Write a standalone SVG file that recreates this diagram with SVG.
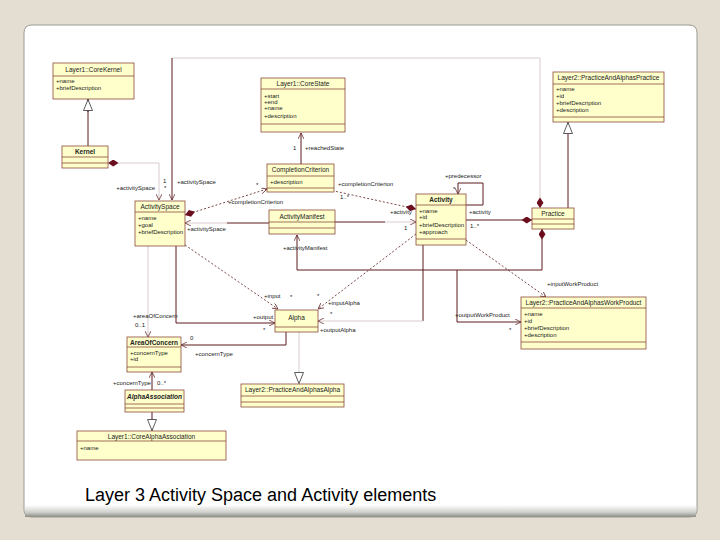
<svg xmlns="http://www.w3.org/2000/svg" width="720" height="540" viewBox="0 0 720 540">
<defs>
<linearGradient id="sh" x1="0" y1="0" x2="0" y2="1">
<stop offset="0" stop-color="#ffffff"/>
<stop offset="0.6" stop-color="#d0d0cc"/>
<stop offset="1" stop-color="#8c8c86"/>
</linearGradient>
<marker id="arr" viewBox="0 0 10 10" refX="10" refY="5" markerWidth="6" markerHeight="6" orient="auto-start-reverse" markerUnits="userSpaceOnUse">
<path d="M0,0 L10,5 L0,10" fill="none" stroke="#5a1a1a" stroke-width="1.2"/>
</marker>
<marker id="dia" viewBox="0 0 12 8" refX="12" refY="4" markerWidth="11" markerHeight="7" orient="auto-start-reverse" markerUnits="userSpaceOnUse">
<path d="M0,4 L6,0 L12,4 L6,8 Z" fill="#6b0f1f"/>
</marker>
<marker id="gen" viewBox="0 0 12 10" refX="12" refY="5" markerWidth="12" markerHeight="10" orient="auto" markerUnits="userSpaceOnUse">
<path d="M0.5,0.5 L11.5,5 L0.5,9.5 Z" fill="#fff" stroke="#333" stroke-width="0.8"/>
</marker>
</defs>
<style>
.box{fill:#ffffcb;stroke:#8a4a3a;stroke-width:0.8}
.sep{stroke:#8a4a3a;stroke-width:0.8}
.hd{font-family:"Liberation Sans",Arial,sans-serif;font-size:6.5px;fill:#222;text-anchor:middle}
.at{font-family:"Liberation Sans",Arial,sans-serif;font-size:6px;fill:#222}
.lb{font-family:"Liberation Sans",Arial,sans-serif;font-size:6px;fill:#222}
.ln{fill:none;stroke:#5a1a1a;stroke-width:1}
.fl{fill:none;stroke:#d9cccc;stroke-width:1}
.ds{fill:none;stroke:#5a1a1a;stroke-width:0.8;stroke-dasharray:2,2}
</style>
<rect x="0" y="0" width="720" height="540" fill="#e4ddd2"/>
<path d="M32,25 H689 Q697,25 697,33 V510 Q697,517 689,517 H32 Q24,517 24,510 V33 Q24,25 32,25 Z" fill="#ffffff" stroke="#9a9a92" stroke-width="1"/>
<rect x="25" y="505" width="671" height="12" fill="url(#sh)"/>
<text x="85" y="501" font-family="Liberation Sans, Arial, sans-serif" font-size="18" fill="#000">Layer 3 Activity Space and Activity elements</text>

<g id="connectors">
<!-- generalizations -->
<path class="ln" d="M88,146 V99"/>
<path class="ln" d="M88,112 V99" marker-end="url(#gen)"/>
<path class="ln" d="M568,208 V122" marker-end="url(#gen)"/>
<path class="ln" d="M152,412 V431" marker-end="url(#gen)"/>
<path class="fl" d="M299,332 V384" marker-end="url(#gen)"/>
<!-- Kernel to ActivitySpace -->
<path class="fl" d="M108,163 H159 V200" marker-start="url(#dia)" marker-end="url(#arr)"/>
<!-- Practice top to ActivitySpace -->
<path class="fl" d="M540,208 V58 H172" marker-start="url(#dia)"/>
<path class="ln" d="M172,58 V200" marker-end="url(#arr)"/>
<!-- CompletionCriterion to CoreState -->
<path class="ln" d="M301,164 V133" marker-end="url(#arr)"/>
<!-- ActivitySpace to CompletionCriterion -->
<path class="ds" d="M185,215 L267,189" marker-start="url(#dia)" marker-end="url(#arr)"/>
<!-- Activity to CompletionCriterion -->
<path class="ds" d="M416,209 L334,191" marker-start="url(#dia)"/>
<!-- ActivityManifest to ActivitySpace -->
<path class="ln" d="M269,223 H227"/>
<path class="fl" d="M227,223 H185" marker-end="url(#arr)"/>
<!-- ActivityManifest to Activity -->
<path class="ln" d="M335,222 H385"/>
<path class="fl" d="M385,222 H416" marker-end="url(#arr)"/>
<!-- Activity self loop -->
<path class="ln" d="M466,205 H483 V183 H458 V194" marker-end="url(#arr)"/>
<!-- Activity to Practice -->
<path class="ln" d="M532,220 H466" marker-start="url(#dia)"/>
<!-- Practice bottom to ActivityManifest -->
<path class="ln" d="M542,229 V270 H297 V235" marker-start="url(#dia)" marker-end="url(#arr)"/>
<!-- Activity to Alpha output -->
<path class="ln" d="M423,245 V321"/>
<path class="fl" d="M423,321 H318" marker-end="url(#arr)"/>
<!-- Activity to Alpha input -->
<path class="ds" d="M416,234 L318,309" marker-end="url(#arr)"/>
<!-- Activity to WorkProduct input -->
<path class="ds" d="M466,240 L546,297" marker-end="url(#arr)"/>
<!-- outputWorkProduct -->
<path class="ln" d="M457,270 V322 H521" marker-end="url(#arr)"/>
<!-- ActivitySpace to Alpha -->
<path class="ds" d="M185,245 L278,309" marker-end="url(#arr)"/>
<path class="ln" d="M176,246 V323 H275" marker-end="url(#arr)"/>
<!-- ActivitySpace to AreaOfConcern -->
<path class="fl" d="M148,246 V337" marker-end="url(#arr)"/>
<!-- Alpha to AreaOfConcern -->
<path class="ln" d="M286,332 V345 H181" marker-end="url(#arr)"/>
<!-- AlphaAssociation to AreaOfConcern -->
<path class="ln" d="M152,390 V372" marker-end="url(#arr)"/>
<!-- labels -->
<text class="lb" x="155" y="190" text-anchor="end">+activitySpace</text>
<text class="lb" x="163" y="183">1</text>
<text class="lb" x="164" y="190">*</text>
<text class="lb" x="177" y="184">+activitySpace</text>
<text class="lb" x="293" y="150">1</text>
<text class="lb" x="305" y="150">+reachedState</text>
<text class="lb" x="228" y="204">+completionCriterion</text>
<text class="lb" x="256" y="187">*</text>
<text class="lb" x="338" y="186">+completionCriterion</text>
<text class="lb" x="340" y="199">1..*</text>
<text class="lb" x="187" y="231">+activitySpace</text>
<text class="lb" x="390" y="214">+activity</text>
<text class="lb" x="404" y="230">1</text>
<text class="lb" x="445" y="178">+predecessor</text>
<text class="lb" x="453" y="191">*</text>
<text class="lb" x="469" y="214">+activity</text>
<text class="lb" x="470" y="228">1..*</text>
<text class="lb" x="283" y="250">+activityManifest</text>
<text class="lb" x="328" y="305">+inputAlpha</text>
<text class="lb" x="317" y="298">*</text>
<text class="lb" x="330" y="316">*</text>
<text class="lb" x="320" y="332">+outputAlpha</text>
<text class="lb" x="547" y="286">+inputWorkProduct</text>
<text class="lb" x="455" y="317">+outputWorkProduct</text>
<text class="lb" x="509" y="332">*</text>
<text class="lb" x="264" y="298">+input</text>
<text class="lb" x="290" y="299">*</text>
<text class="lb" x="253" y="319">+output</text>
<text class="lb" x="263" y="332">*</text>
<text class="lb" x="133" y="318">+areaOfConcern</text>
<text class="lb" x="135" y="327">0..1</text>
<text class="lb" x="190" y="340">0</text>
<text class="lb" x="195" y="356">+concernType</text>
<text class="lb" x="113" y="385">+concernType</text>
<text class="lb" x="157" y="385">0..*</text>
</g>

<g id="CoreKernel">
<rect class="box" x="53" y="63" width="81" height="36"/>
<line class="sep" x1="53" y1="76" x2="134" y2="76"/>
<text class="hd" x="93.5" y="72">Layer1::CoreKernel</text>
<text class="at" x="56" y="83">+name</text>
<text class="at" x="56" y="90">+briefDescription</text>
</g>
<g id="Kernel">
<rect class="box" x="62" y="146" width="46" height="22"/>
<line class="sep" x1="62" y1="157" x2="108" y2="157"/>
<line class="sep" x1="62" y1="163" x2="108" y2="163"/>
<text class="hd" x="85" y="154" font-weight="bold">Kernel</text>
</g>
<g id="CoreState">
<rect class="box" x="261" y="78" width="84" height="54"/>
<line class="sep" x1="261" y1="89" x2="345" y2="89"/>
<line class="sep" x1="261" y1="124" x2="345" y2="124"/>
<text class="hd" x="303" y="86">Layer1::CoreState</text>
<text class="at" x="264" y="98">+start</text>
<text class="at" x="264" y="104">+end</text>
<text class="at" x="264" y="110">+name</text>
<text class="at" x="264" y="118">+description</text>
</g>
<g id="CompletionCriterion">
<rect class="box" x="267" y="164" width="67" height="28"/>
<line class="sep" x1="267" y1="176" x2="334" y2="176"/>
<line class="sep" x1="267" y1="188" x2="334" y2="188"/>
<text class="hd" x="300.5" y="172">CompletionCriterion</text>
<text class="at" x="270" y="184">+description</text>
</g>
<g id="ActivitySpace">
<rect class="box" x="135" y="201" width="50" height="45"/>
<line class="sep" x1="135" y1="212" x2="185" y2="212"/>
<text class="hd" x="160" y="209">ActivitySpace</text>
<text class="at" x="138" y="220">+name</text>
<text class="at" x="138" y="227">+goal</text>
<text class="at" x="138" y="234">+briefDescription</text>
</g>
<g id="ActivityManifest">
<rect class="box" x="269" y="210" width="66" height="24"/>
<line class="sep" x1="269" y1="222" x2="335" y2="222"/>
<line class="sep" x1="269" y1="228" x2="335" y2="228"/>
<text class="hd" x="302" y="219">ActivityManifest</text>
</g>
<g id="Activity">
<rect class="box" x="416" y="194" width="50" height="51"/>
<line class="sep" x1="416" y1="205" x2="466" y2="205"/>
<line class="sep" x1="416" y1="239" x2="466" y2="239"/>
<text class="hd" x="441" y="202" font-weight="bold">Activity</text>
<text class="at" x="419" y="213">+name</text>
<text class="at" x="419" y="219">+id</text>
<text class="at" x="419" y="227">+briefDescription</text>
<text class="at" x="419" y="234">+approach</text>
</g>
<g id="Practice">
<rect class="box" x="532" y="208" width="42" height="21"/>
<line class="sep" x1="532" y1="219" x2="574" y2="219"/>
<line class="sep" x1="532" y1="224" x2="574" y2="224"/>
<text class="hd" x="553" y="216">Practice</text>
</g>
<g id="PracticeAndAlphasPractice">
<rect class="box" x="553" y="72" width="111" height="50"/>
<line class="sep" x1="553" y1="84" x2="664" y2="84"/>
<line class="sep" x1="553" y1="117" x2="664" y2="117"/>
<text class="hd" x="608.5" y="80">Layer2::PracticeAndAlphasPractice</text>
<text class="at" x="556" y="91">+name</text>
<text class="at" x="556" y="98">+id</text>
<text class="at" x="556" y="105">+briefDescription</text>
<text class="at" x="556" y="112">+description</text>
</g>
<g id="PracticeAndAlphasWorkProduct">
<rect class="box" x="521" y="297" width="125" height="52"/>
<line class="sep" x1="521" y1="308" x2="646" y2="308"/>
<line class="sep" x1="521" y1="342" x2="646" y2="342"/>
<text class="hd" x="583.5" y="305">Layer2::PracticeAndAlphasWorkProduct</text>
<text class="at" x="524" y="316">+name</text>
<text class="at" x="524" y="323">+id</text>
<text class="at" x="524" y="330">+briefDescription</text>
<text class="at" x="524" y="337">+description</text>
</g>
<g id="Alpha">
<rect class="box" x="275" y="310" width="43" height="22"/>
<line class="sep" x1="275" y1="327" x2="318" y2="327"/>
<text class="hd" x="296.5" y="320">Alpha</text>
</g>
<g id="AreaOfConcern">
<rect class="box" x="127" y="337" width="54" height="35"/>
<line class="sep" x1="127" y1="347" x2="181" y2="347"/>
<line class="sep" x1="127" y1="367" x2="181" y2="367"/>
<text class="hd" x="154" y="344.5" font-weight="bold">AreaOfConcern</text>
<text class="at" x="130" y="355">+concernType</text>
<text class="at" x="130" y="361">+id</text>
</g>
<g id="AlphaAssociation">
<rect class="box" x="125" y="390" width="59" height="22"/>
<line class="sep" x1="125" y1="404" x2="184" y2="404"/>
<line class="sep" x1="125" y1="408" x2="184" y2="408"/>
<text class="hd" x="154.5" y="399" font-weight="bold" font-style="italic">AlphaAssociation</text>
</g>
<g id="CoreAlphaAssociation">
<rect class="box" x="77" y="431" width="149" height="29"/>
<line class="sep" x1="77" y1="441" x2="226" y2="441"/>
<text class="hd" x="151.5" y="438.5">Layer1::CoreAlphaAssociation</text>
<text class="at" x="80" y="450">+name</text>
</g>
<g id="PracticeAndAlphasAlpha">
<rect class="box" x="241" y="384" width="103" height="23"/>
<line class="sep" x1="241" y1="396" x2="344" y2="396"/>
<line class="sep" x1="241" y1="402" x2="344" y2="402"/>
<text class="hd" x="292.5" y="392">Layer2::PracticeAndAlphasAlpha</text>
</g>
</svg>
